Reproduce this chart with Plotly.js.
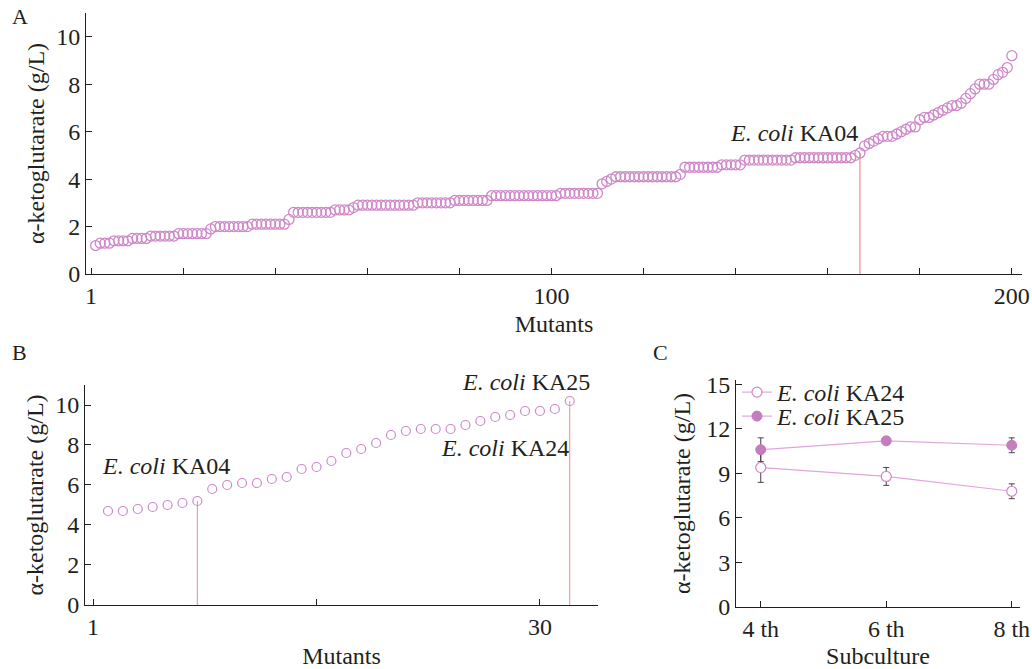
<!DOCTYPE html>
<html><head><meta charset="utf-8">
<script src="https://cdn.plot.ly/plotly-3.0.1.min.js"></script>
<style>html,body{margin:0;padding:0;background:#fff}#chart{width:1032px;height:669px}</style>
</head><body><div id="chart"></div>
<script>
// ---- Panel A: 200 mutants, sorted alpha-ketoglutarate titers (g/L)
const mutantValuesA = [
  1.2, 1.3, 1.3, 1.3, 1.4, 1.4, 1.4, 1.4, 1.5, 1.5,
  1.5, 1.5, 1.6, 1.6, 1.6, 1.6, 1.6, 1.6, 1.7, 1.7,
  1.7, 1.7, 1.7, 1.7, 1.7, 1.9, 2.0, 2.0, 2.0, 2.0,
  2.0, 2.0, 2.0, 2.0, 2.1, 2.1, 2.1, 2.1, 2.1, 2.1,
  2.1, 2.1, 2.3, 2.6, 2.6, 2.6, 2.6, 2.6, 2.6, 2.6,
  2.6, 2.6, 2.7, 2.7, 2.7, 2.7, 2.8, 2.9, 2.9, 2.9,
  2.9, 2.9, 2.9, 2.9, 2.9, 2.9, 2.9, 2.9, 2.9, 2.9,
  3.0, 3.0, 3.0, 3.0, 3.0, 3.0, 3.0, 3.0, 3.1, 3.1,
  3.1, 3.1, 3.1, 3.1, 3.1, 3.1, 3.3, 3.3, 3.3, 3.3,
  3.3, 3.3, 3.3, 3.3, 3.3, 3.3, 3.3, 3.3, 3.3, 3.3,
  3.3, 3.4, 3.4, 3.4, 3.4, 3.4, 3.4, 3.4, 3.4, 3.4,
  3.8, 3.9, 4.0, 4.1, 4.1, 4.1, 4.1, 4.1, 4.1, 4.1,
  4.1, 4.1, 4.1, 4.1, 4.1, 4.1, 4.1, 4.2, 4.5, 4.5,
  4.5, 4.5, 4.5, 4.5, 4.5, 4.5, 4.6, 4.6, 4.6, 4.6,
  4.6, 4.8, 4.8, 4.8, 4.8, 4.8, 4.8, 4.8, 4.8, 4.8,
  4.8, 4.8, 4.9, 4.9, 4.9, 4.9, 4.9, 4.9, 4.9, 4.9,
  4.9, 4.9, 4.9, 4.9, 4.9, 5.0, 5.1, 5.4, 5.5, 5.6,
  5.7, 5.8, 5.8, 5.8, 5.9, 6.0, 6.1, 6.2, 6.2, 6.5,
  6.6, 6.6, 6.7, 6.8, 6.9, 7.0, 7.1, 7.1, 7.2, 7.4,
  7.6, 7.8, 8.0, 8.0, 8.0, 8.2, 8.4, 8.5, 8.7, 9.2
];
const ka04IndexA = 167;
const tickValsA = [0, 20, 40, 60, 80, 100, 120, 140, 160, 180, 200];
const tickTextA = ["1", "", "", "", "", "100", "", "", "", "", "200"];
const yTicksAB = [0, 2, 4, 6, 8, 10];

// ---- Panel B: top 32 mutants re-screened
const mutantValuesB = [
  4.7, 4.7, 4.8, 4.9, 5.0, 5.1, 5.2, 5.8, 6.0, 6.1,
  6.1, 6.3, 6.4, 6.8, 6.9, 7.2, 7.6, 7.8, 8.1, 8.5,
  8.7, 8.8, 8.8, 8.8, 9.0, 9.2, 9.4, 9.5, 9.7, 9.7,
  9.8, 10.2
];
const ka04IndexB = 7;
const ka25IndexB = 32;
const tickValsB = [0, 15, 30];
const tickTextB = ["1", "", "30"];

// ---- Panel C: subculture stability
const subculture = ["4 th", "6 th", "8 th"];
const ka24Mean = [9.4, 8.8, 7.8];
const ka24Err = [1.0, 0.6, 0.5];
const ka25Mean = [10.6, 11.2, 10.9];
const ka25Err = [0.8, 0.25, 0.5];
const yTicksC = [0, 3, 6, 9, 12, 15];

// ---- styling
const FONT = '"Liberation Serif", "Times New Roman", serif';
const INK = "#231f20";
const PINK = "#cf88c9";
const RED = "#f08c8c";
const FS = 24;

const xA = mutantValuesA.map((_, i) => i + 1);
const xB = mutantValuesB.map((_, i) => i + 1);

const traces = [
  {x: xA, y: mutantValuesA, type: "scatter", mode: "markers", xaxis: "x", yaxis: "y",
   marker: {symbol: "circle-open", size: 10, color: PINK, line: {width: 1.3, color: PINK}},
   showlegend: false, cliponaxis: false},
  {x: [ka04IndexA, ka04IndexA], y: [0, mutantValuesA[ka04IndexA - 1]], type: "scatter", mode: "lines",
   xaxis: "x", yaxis: "y", line: {color: RED, width: 1.2}, showlegend: false},
  {x: [ka04IndexB, ka04IndexB], y: [0, mutantValuesB[ka04IndexB - 1]], type: "scatter", mode: "lines",
   xaxis: "x2", yaxis: "y2", line: {color: RED, width: 1}, showlegend: false},
  {x: [ka25IndexB, ka25IndexB], y: [0, mutantValuesB[ka25IndexB - 1]], type: "scatter", mode: "lines",
   xaxis: "x2", yaxis: "y2", line: {color: RED, width: 1}, showlegend: false},
  {x: xB, y: mutantValuesB, type: "scatter", mode: "markers", xaxis: "x2", yaxis: "y2",
   marker: {symbol: "circle", size: 9, color: "rgba(255,255,255,0)", line: {width: 1.2, color: PINK}},
   showlegend: false, cliponaxis: false},
  {x: subculture, y: ka24Mean, type: "scatter", mode: "lines+markers", xaxis: "x3", yaxis: "y3",
   name: "<i>E. coli</i> KA24", legend: "legend",
   line: {color: "#e0a6da", width: 1.2},
   marker: {symbol: "circle", size: 10, color: "#ffffff", line: {width: 1.2, color: PINK}},
   error_y: {type: "data", array: ka24Err, visible: true, color: "#444", thickness: 1, width: 3},
   cliponaxis: false},
  {x: subculture, y: ka25Mean, type: "scatter", mode: "lines+markers", xaxis: "x3", yaxis: "y3",
   name: "<i>E. coli</i> KA25", legend: "legend2",
   line: {color: "#e0a6da", width: 1.2},
   marker: {symbol: "circle", size: 10, color: "#c47dbe", line: {width: 1, color: "#c47dbe"}},
   error_y: {type: "data", array: ka25Err, visible: true, color: "#444", thickness: 1, width: 3},
   cliponaxis: false}
];

function axisBase(extra) {
  return Object.assign({
    showline: true, linecolor: INK, linewidth: 1, mirror: false,
    ticks: "inside", ticklen: 6, tickwidth: 1, tickcolor: INK,
    showgrid: false, zeroline: false, fixedrange: true,
    tickfont: {family: FONT, size: FS, color: INK}
  }, extra);
}
const ytitle = "α-ketoglutarate (g/L)";
const tfont = {family: FONT, size: FS, color: INK};
const legendBase = {x: 737 / 1032, xanchor: "left", yanchor: "top", bgcolor: "rgba(0,0,0,0)",
  font: tfont, tracegroupgap: 0, itemwidth: 30};

const layout = {
  width: 1032, height: 669,
  margin: {l: 0, r: 0, t: 0, b: 0},
  paper_bgcolor: "#ffffff", plot_bgcolor: "rgba(0,0,0,0)",
  font: tfont,
  xaxis: axisBase({domain: [0.0833, 0.9903], range: [-1.1, 202.2], anchor: "y",
    tickmode: "array", tickvals: tickValsA, ticktext: tickTextA,
    title: {text: "Mutants", font: tfont, standoff: 7}}),
  yaxis: axisBase({domain: [0.5904, 0.9806], range: [0, 11], anchor: "x",
    tickmode: "array", tickvals: yTicksAB,
    title: {text: ytitle, font: tfont, standoff: 4}}),
  xaxis2: axisBase({domain: [0.0824, 0.5795], range: [-0.54, 33.9], anchor: "y2",
    tickmode: "array", tickvals: tickValsB, ticktext: tickTextB,
    title: {text: "Mutants", font: tfont, standoff: 11}}),
  yaxis2: axisBase({domain: [0.0957, 0.4245], range: [0, 11], anchor: "x2",
    tickmode: "array", tickvals: yTicksAB,
    title: {text: ytitle, font: tfont, standoff: 4}}),
  xaxis3: axisBase({domain: [0.7132, 0.9884], range: [-0.197, 2.066], anchor: "y3", type: "category",
    title: {text: "Subculture", font: tfont, standoff: 7}}),
  yaxis3: axisBase({domain: [0.0927, 0.4320], range: [0, 15.3], anchor: "x3",
    tickmode: "array", tickvals: yTicksC,
    title: {text: ytitle, font: tfont, standoff: 8}}),
  showlegend: true,
  legend: Object.assign({y: 1 - 370 / 669}, legendBase),
  legend2: Object.assign({y: 1 - 394 / 669}, legendBase),
  annotations: [
    {text: "A", xref: "paper", yref: "paper", x: 10 / 1032, y: 1 - 16 / 669, xanchor: "left", yanchor: "middle", showarrow: false, font: {family: FONT, size: 22, color: INK}},
    {text: "B", xref: "paper", yref: "paper", x: 10 / 1032, y: 1 - 352 / 669, xanchor: "left", yanchor: "middle", showarrow: false, font: {family: FONT, size: 22, color: INK}},
    {text: "C", xref: "paper", yref: "paper", x: 651 / 1032, y: 1 - 352 / 669, xanchor: "left", yanchor: "middle", showarrow: false, font: {family: FONT, size: 22, color: INK}},
    {text: "<i>E. coli</i> KA04", xref: "x", yref: "y", x: 138.3, y: 5.93, xanchor: "left", yanchor: "middle", showarrow: false},
    {text: "<i>E. coli</i> KA04", xref: "x2", yref: "y2", x: 0.47, y: 6.95, xanchor: "left", yanchor: "middle", showarrow: false},
    {text: "<i>E. coli</i> KA25", xref: "paper", yref: "paper", x: 460 / 1032, y: 1 - 382 / 669, xanchor: "left", yanchor: "middle", showarrow: false},
    {text: "<i>E. coli</i> KA24", xref: "x2", yref: "y2", x: 23.2, y: 7.85, xanchor: "left", yanchor: "middle", showarrow: false}
  ]
};

Plotly.newPlot("chart", traces, layout, {staticPlot: true, displayModeBar: false});
</script>
</body></html>
